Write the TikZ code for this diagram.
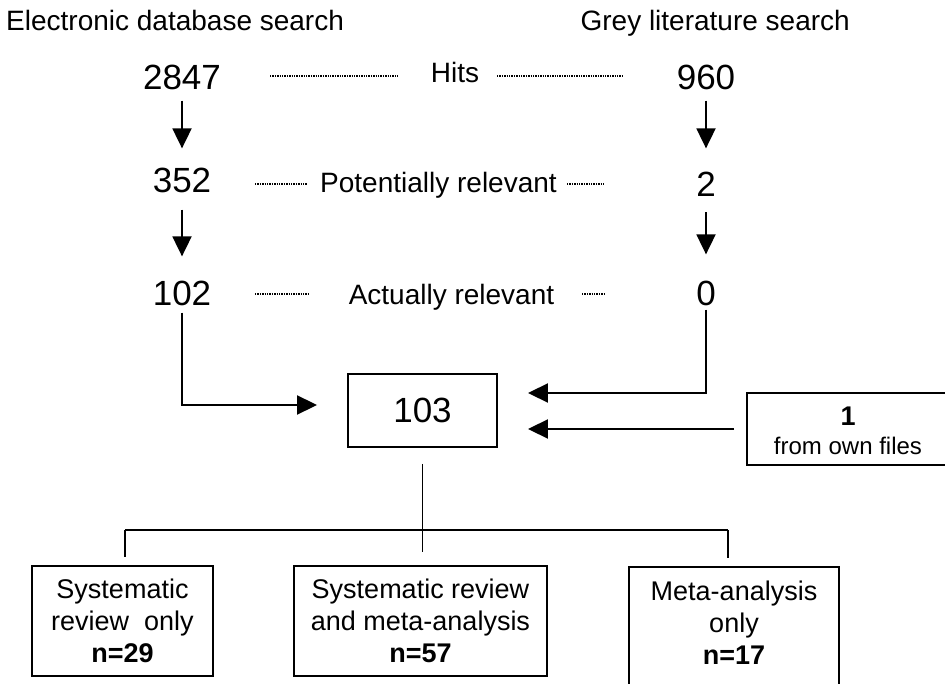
\documentclass[tikz,border=0pt]{standalone}
\usepackage{fontspec}
\setmainfont{Liberation Sans}
\usetikzlibrary{arrows.meta}
\begin{document}
\begin{tikzpicture}[x=1pt,y=-1pt,
 lab/.style={inner sep=0pt, font=\fontsize{28}{32}\selectfont},
 num/.style={inner sep=0pt, anchor=base, font=\fontsize{35}{40}\selectfont},
 ln/.style={line width=1.9pt},
 arr/.style={ln, -{Triangle[length=20pt,width=19pt]}},
 lead/.style={line width=1.4pt, dash pattern=on 1.3pt off 1.1pt},
 framebox/.style={draw, ln, inner sep=0pt, align=center},
 btxt/.style={font=\fontsize{27}{32}\selectfont, align=center, inner sep=0pt}]
\useasboundingbox (0,0) rectangle (945,684);

% headings
\node[lab, anchor=base west] (t1) at (6,31) {Electronic database search};
\node[lab, anchor=base east] (t2) at (850,31) {Grey literature search};

% numbers
\node[num] (a1) at (182,90) {2847};
\node[num] (a2) at (182,193) {352};
\node[num] (a3) at (182,306) {102};
\node[num] (b1) at (706,90) {960};
\node[num] (b2) at (706,197) {2};
\node[num] (b3) at (706,306) {0};

% middle labels
\node[lab, anchor=base] (h1) at (455,83) {Hits};
\node[lab, anchor=base] (h2) at (438.5,193) {Potentially relevant};
\node[lab, anchor=base] (h3) at (451.5,305) {Actually relevant};

% leaders
\coordinate (d1a) at (270,76); \coordinate (d1b) at (398,76);
\coordinate (d1c) at (497,76); \coordinate (d1d) at (623,76);
\coordinate (d2a) at (255,184); \coordinate (d2b) at (307,184);
\coordinate (d2c) at (567,184); \coordinate (d2d) at (605,184);
\coordinate (d3a) at (255,294); \coordinate (d3b) at (310,294);
\coordinate (d3c) at (582,294); \coordinate (d3d) at (605,294);
\draw[lead] (d1a) -- (d1b); \draw[lead] (d1c) -- (d1d);
\draw[lead] (d2a) -- (d2b); \draw[lead] (d2c) -- (d2d);
\draw[lead] (d3a) -- (d3b); \draw[lead] (d3c) -- (d3d);

% vertical arrows
\draw[arr, shorten <=10pt, shorten >=20pt] (a1.south) -- (a2.north);
\draw[arr, shorten <=16pt, shorten >=25pt] (a2.south) -- (a3.north);
\draw[arr, shorten <=10pt, shorten >=24pt] (b1.south) -- (b2.north);
\draw[arr, shorten <=15pt, shorten >=27pt] (b2.south) -- (b3.north);

% central box
\node[framebox, minimum width=149pt, minimum height=73pt, font=\fontsize{35}{40}\selectfont] (c103) at (422.5,410.5) {103};

% own files box (runs past the right edge)
\node[framebox, minimum width=210pt, minimum height=72pt] (own) at (852,429) {};
\node[inner sep=0pt, anchor=base, font=\fontsize{27}{30}\selectfont\bfseries] (own1) at (848,425) {1};
\node[inner sep=0pt, anchor=base, font=\fontsize{24}{28}\selectfont] (own2) at (848,454) {from own files};

% connectors into 103
\draw[arr, shorten <=6pt, shorten >=30pt] (a3.south) |- ([yshift=5.5pt]c103.west);
\draw[arr, shorten <=3pt, shorten >=30pt] (b3.south) |- ([yshift=17.5pt]c103.east);
\draw[arr, shorten <=12pt, shorten >=30pt] (own.west) -- (own.west -| c103.east);

% bottom boxes
\node[framebox, minimum width=181pt, minimum height=110pt, font=\fontsize{27}{32}\selectfont] (lb) at (122.5,621) {Systematic\\review\ \ only\\\textbf{n=29}};
\node[framebox, minimum width=253pt, minimum height=110pt, font=\fontsize{27}{32}\selectfont] (mb) at (420.5,621) {Systematic review\\and meta-analysis\\\textbf{n=57}};
\node[framebox, minimum width=210pt, minimum height=140pt, anchor=north] (rb) at (734,566) {};
\node[btxt] (rbt) at (734,623) {Meta-analysis\\only\\\textbf{n=17}};

% tree
\coordinate (bl) at (125,530);
\coordinate (br) at (728,530);
\draw[ln, shorten <=16pt, shorten >=13pt] (c103.south) -- (c103.south |- mb.north);
\draw[ln] (bl) -- (br);
\draw[ln, shorten >=8pt] (bl) -- (bl |- lb.north);
\draw[ln, shorten >=8pt] (br) -- (br |- rb.north);
\end{tikzpicture}
\end{document}
